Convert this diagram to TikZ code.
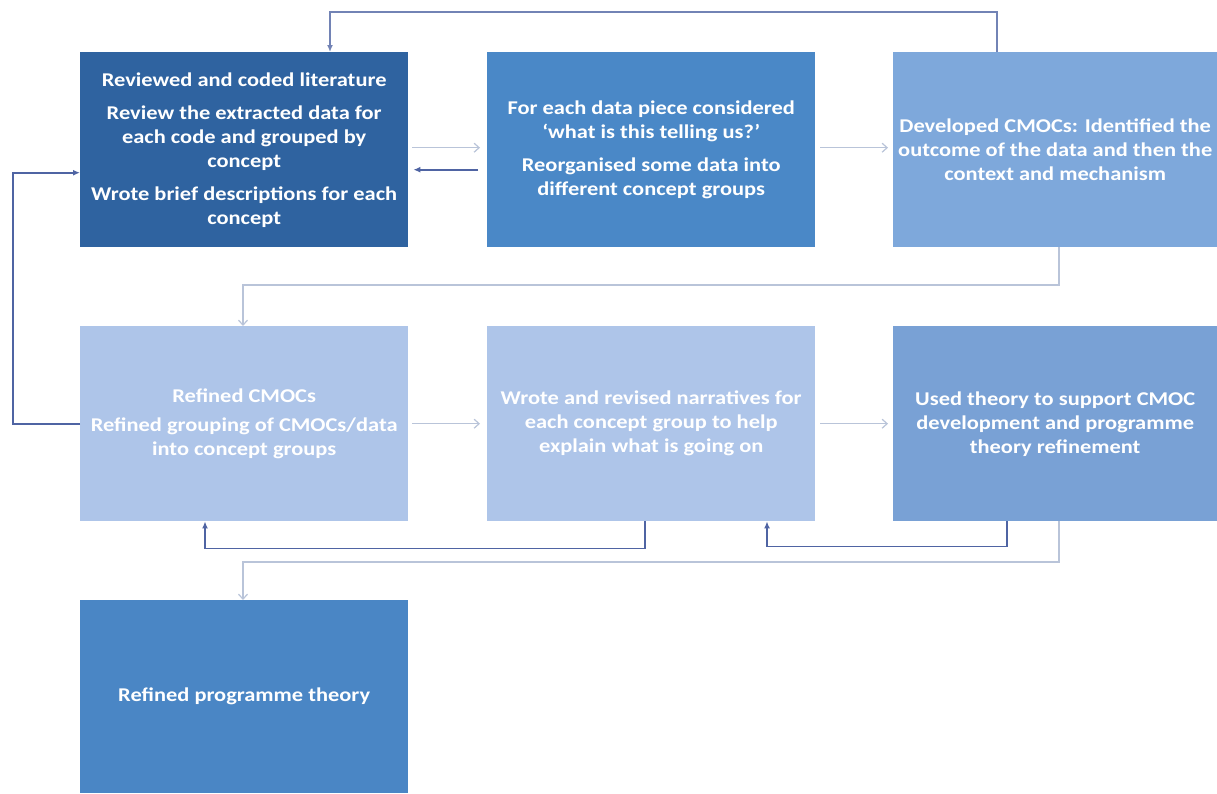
\documentclass[tikz,border=0pt]{standalone}
\usepackage{fontspec}
\setmainfont[FakeStretch=1.15]{Carlito}
\usetikzlibrary{calc,arrows.meta}
\definecolor{cA}{HTML}{2F63A0}
\definecolor{cB}{HTML}{4A88C7}
\definecolor{cC}{HTML}{7EA8DB}
\definecolor{cD}{HTML}{AEC5E9}
\definecolor{cE}{HTML}{79A1D5}
\definecolor{cF}{HTML}{4A86C5}
\definecolor{lnL}{HTML}{B9C4D9}
\definecolor{lnD}{HTML}{4F64A3}
\tikzset{
  box/.style={rectangle,inner sep=0pt,anchor=north west,minimum width=328pt,minimum height=195pt,
    text=white,align=center,font=\bfseries\fontsize{19.5}{24}\selectfont},
  lite/.style={draw=lnL,line width=1.2pt,-{Straight Barb[length=5pt,width=9pt]}},
  dark/.style={draw=lnD,line width=1.6pt,-{Latex[length=7pt,width=6pt]}}
}
\begin{document}
\begin{tikzpicture}[x=1pt,y=-1pt]
\useasboundingbox[fill=white] (0,0) rectangle (1217,793);
\node[box,fill=cA] (b1) at (80,52) {Reviewed and coded literature\\[9pt]Review the extracted data for\\each code and grouped by\\concept\\[9pt]Wrote brief descriptions for each\\concept};
\node[box,fill=cB] (b2) at (487,52) {For each data piece considered\\‘what is this telling us?’\\[9pt]Reorganised some data into\\different concept groups};
\node[box,fill=cC,minimum width=324pt] (b3) at (893,52) {Developed CMOCs: Identified the\\outcome of the data and then the\\context and mechanism};
\node[box,fill=cD] (b4) at (80,326) {\raisebox{-4pt}{Refined CMOCs}\\[9pt]Refined grouping of CMOCs/data\\into concept groups};
\node[box,fill=cD] (b5) at (487,326) {Wrote and revised narratives for\\each concept group to help\\explain what is going on};
\node[box,fill=cE,minimum width=324pt] (b6) at (893,326) {Used theory to support CMOC\\development and programme\\theory refinement};
\node[box,fill=cF,minimum height=193pt] (b7) at (80,600) {Refined programme theory};
% row 1 horizontal
\draw[lite] ($(b1.east)+(4,-2)$) -- ($(b2.west)+(-7,-2)$);
\draw[dark] ($(b2.west)+(-9,20)$) -- ($(b1.east)+(5,20)$);
\draw[lite] ($(b2.east)+(5,-2)$) -- ($(b3.west)+(-5,-2)$);
% top loop
\draw[dark,draw=lnD!80] ($(b3.north west)+(104,0)$) |- ($(b1.north west)+(250,-40)$) -- ($(b1.north west)+(250,0)$);
% row1 to row2
\draw[lite] ($(b3.south west)+(166,0)$) |- ($(b4.north west)+(163,-41)$) -- ($(b4.north west)+(163,0)$);
% left loop
\draw[dark] (b4.west) -| ($(b1.west)+(-67,23)$) -- ($(b1.west)+(0,23)$);
% row 2 horizontal
\draw[lite] ($(b4.east)+(4,0)$) -- ($(b5.west)+(-7,0)$);
\draw[lite] ($(b5.east)+(5,0)$) -- ($(b6.west)+(-5,0)$);
% bottom loops
\draw[dark] ($(b5.south west)+(158,0)$) |- ($(b4.south west)+(125,27)$) -- ($(b4.south west)+(125,0)$);
\draw[dark] ($(b6.south west)+(114,0)$) |- ($(b5.south west)+(280,25)$) -- ($(b5.south west)+(280,0)$);
\draw[lite] ($(b6.south west)+(166,0)$) |- ($(b7.north west)+(163,-38)$) -- ($(b7.north west)+(163,0)$);
\end{tikzpicture}
\end{document}
